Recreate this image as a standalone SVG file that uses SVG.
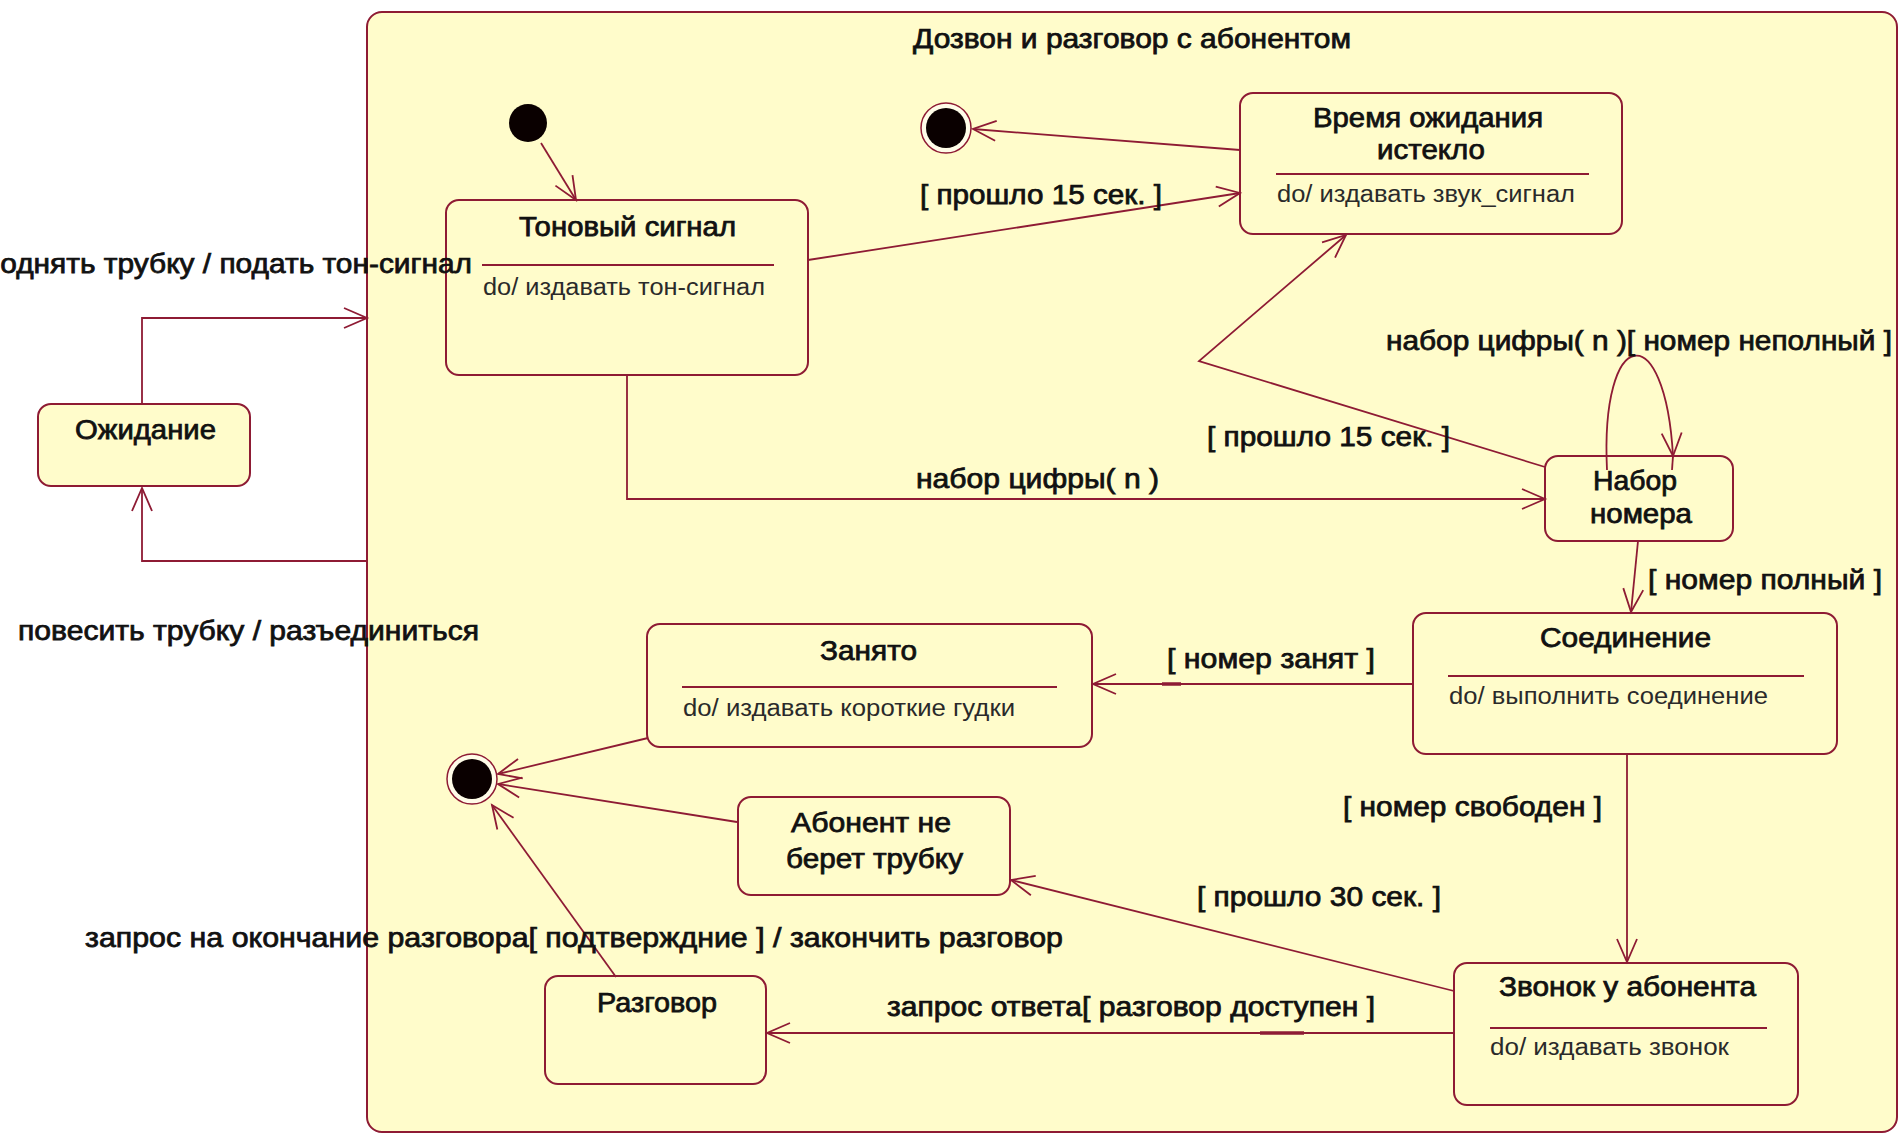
<svg xmlns="http://www.w3.org/2000/svg" width="1903" height="1135" viewBox="0 0 1903 1135">
<defs>
<style>
.st{fill:#FFFCCB;stroke:#8E1B34;stroke-width:2}
.sep{stroke:#8E1B34;stroke-width:1.8}
.cn{fill:none;stroke:#8E1B34;stroke-width:1.8}
.ar{marker-end:url(#arr)}
.nm,.lb{font-family:"Liberation Sans",Arial,sans-serif;font-size:27px;font-weight:normal;fill:#111;stroke:#111;stroke-width:0.75}
.act{font-family:"Liberation Sans",Arial,sans-serif;font-size:23px;fill:#2a2a2a}
</style>
<marker id="arr" viewBox="-26 -14 28 28" refX="0" refY="0" markerWidth="28" markerHeight="28" markerUnits="userSpaceOnUse" orient="auto" overflow="visible">
<path d="M-23,-10 L0,0 L-23,10" fill="none" stroke="#8E1B34" stroke-width="1.8"/>
</marker>
</defs>
<rect width="1903" height="1135" fill="#ffffff"/>

<g id="composite">
<rect class="st" x="367" y="12" width="1530" height="1120" rx="15" ry="15"/>
<text class="lb" x="913" y="48" textLength="438" lengthAdjust="spacingAndGlyphs">Дозвон и разговор с абонентом</text>
</g>

<g id="waiting">
<rect class="st" x="38" y="404" width="212" height="82" rx="13" ry="13"/>
<text class="nm" x="75" y="439" textLength="141" lengthAdjust="spacingAndGlyphs">Ожидание</text>
</g>

<g id="initial">
<circle cx="528" cy="123" r="19" fill="#0a0000"/>
</g>

<g id="final-top">
<circle cx="946" cy="128" r="25" fill="#FFFCE8" stroke="#8E1B34" stroke-width="1.5"/>
<circle cx="946" cy="128" r="20" fill="#0a0000"/>
</g>

<g id="final-bottom">
<circle cx="472" cy="779" r="25" fill="#FFFCE8" stroke="#8E1B34" stroke-width="1.5"/>
<circle cx="472" cy="779" r="20" fill="#0a0000"/>
</g>

<g id="dial-tone">
<rect class="st" x="446" y="200" width="362" height="175" rx="13" ry="13"/>
<text class="nm" x="519" y="236" textLength="217" lengthAdjust="spacingAndGlyphs">Тоновый сигнал</text>
<line class="sep" x1="482" y1="265" x2="774" y2="265"/>
<text class="act" x="483" y="295" textLength="282" lengthAdjust="spacingAndGlyphs">do/ издавать тон-сигнал</text>
</g>

<g id="timeout">
<rect class="st" x="1240" y="93" width="382" height="141" rx="13" ry="13"/>
<text class="nm" x="1313" y="127" textLength="230" lengthAdjust="spacingAndGlyphs">Время ожидания</text>
<text class="nm" x="1377" y="159" textLength="108" lengthAdjust="spacingAndGlyphs">истекло</text>
<line class="sep" x1="1276" y1="174" x2="1589" y2="174"/>
<text class="act" x="1277" y="202" textLength="298" lengthAdjust="spacingAndGlyphs">do/ издавать звук_сигнал</text>
</g>

<g id="dialing">
<rect class="st" x="1545" y="456" width="188" height="85" rx="13" ry="13"/>
<text class="nm" x="1593" y="490" textLength="84" lengthAdjust="spacingAndGlyphs">Набор</text>
<text class="nm" x="1590" y="523" textLength="102" lengthAdjust="spacingAndGlyphs">номера</text>
</g>

<g id="connecting">
<rect class="st" x="1413" y="613" width="424" height="141" rx="13" ry="13"/>
<text class="nm" x="1540" y="647" textLength="171" lengthAdjust="spacingAndGlyphs">Соединение</text>
<line class="sep" x1="1448" y1="676" x2="1804" y2="676"/>
<text class="act" x="1449" y="704" textLength="319" lengthAdjust="spacingAndGlyphs">do/ выполнить соединение</text>
</g>

<g id="busy">
<rect class="st" x="647" y="624" width="445" height="123" rx="13" ry="13"/>
<text class="nm" x="820" y="660" textLength="97" lengthAdjust="spacingAndGlyphs">Занято</text>
<line class="sep" x1="682" y1="687" x2="1057" y2="687"/>
<text class="act" x="683" y="716" textLength="332" lengthAdjust="spacingAndGlyphs">do/ издавать короткие гудки</text>
</g>

<g id="no-answer">
<rect class="st" x="738" y="797" width="272" height="98" rx="13" ry="13"/>
<text class="nm" x="791" y="832" textLength="160" lengthAdjust="spacingAndGlyphs">Абонент не</text>
<text class="nm" x="786" y="868" textLength="177" lengthAdjust="spacingAndGlyphs">берет трубку</text>
</g>

<g id="talk">
<rect class="st" x="545" y="976" width="221" height="108" rx="13" ry="13"/>
<text class="nm" x="597" y="1012" textLength="120" lengthAdjust="spacingAndGlyphs">Разговор</text>
</g>

<g id="ringing">
<rect class="st" x="1454" y="963" width="344" height="142" rx="13" ry="13"/>
<text class="nm" x="1499" y="996" textLength="257" lengthAdjust="spacingAndGlyphs">Звонок у абонента</text>
<line class="sep" x1="1490" y1="1028" x2="1767" y2="1028"/>
<text class="act" x="1490" y="1055" textLength="239" lengthAdjust="spacingAndGlyphs">do/ издавать звонок</text>
</g>

<g id="connectors">
<polyline class="cn ar" points="142,404 142,318 367,318"/>
<polyline class="cn ar" points="367,561 142,561 142,488"/>
<line class="cn ar" x1="541" y1="143" x2="576" y2="200"/>
<line class="cn ar" x1="808" y1="260" x2="1240" y2="193"/>
<line class="cn ar" x1="1240" y1="150" x2="973" y2="129"/>
<polyline class="cn ar" points="1545,467 1199,361 1346,235"/>
<polyline class="cn ar" points="627,375 627,499 1545,499"/>
<path class="cn ar" d="M1607,470 C1600,325 1665,315 1673,456"/>
<line class="cn" x1="1673" y1="456" x2="1672" y2="470"/>
<line class="cn ar" x1="1638" y1="541" x2="1631" y2="612"/>
<line class="cn ar" x1="1413" y1="684" x2="1093" y2="684"/>
<line x1="1162" y1="684" x2="1181" y2="684" stroke="#8E1B34" stroke-width="3.5"/>
<line class="cn ar" x1="1627" y1="754" x2="1627" y2="962"/>
<line class="cn ar" x1="1454" y1="991" x2="1011" y2="880"/>
<line class="cn ar" x1="1454" y1="1033" x2="767" y2="1033"/>
<line x1="1260" y1="1033" x2="1304" y2="1033" stroke="#8E1B34" stroke-width="3.5"/>
<line class="cn ar" x1="648" y1="738" x2="498" y2="774"/>
<line class="cn ar" x1="737" y1="822" x2="498" y2="784"/>
<line class="cn ar" x1="616" y1="977" x2="492" y2="805"/>

<text class="lb" x="-16" y="273" textLength="488" lengthAdjust="spacingAndGlyphs">поднять трубку / подать тон-сигнал</text>
<text class="lb" x="18" y="640" textLength="461" lengthAdjust="spacingAndGlyphs">повесить трубку / разъединиться</text>
<text class="lb" x="920" y="204" textLength="242" lengthAdjust="spacingAndGlyphs">[ прошло 15 сек. ]</text>
<text class="lb" x="1207" y="446" textLength="243" lengthAdjust="spacingAndGlyphs">[ прошло 15 сек. ]</text>
<text class="lb" x="916" y="488" textLength="243" lengthAdjust="spacingAndGlyphs">набор цифры( n )</text>
<text class="lb" x="1386" y="350" textLength="506" lengthAdjust="spacingAndGlyphs">набор цифры( n )[ номер неполный ]</text>
<text class="lb" x="1648" y="589" textLength="234" lengthAdjust="spacingAndGlyphs">[ номер полный ]</text>
<text class="lb" x="1167" y="668" textLength="208" lengthAdjust="spacingAndGlyphs">[ номер занят ]</text>
<text class="lb" x="1343" y="816" textLength="259" lengthAdjust="spacingAndGlyphs">[ номер свободен ]</text>
<text class="lb" x="1197" y="906" textLength="244" lengthAdjust="spacingAndGlyphs">[ прошло 30 сек. ]</text>
<text class="lb" x="887" y="1016" textLength="488" lengthAdjust="spacingAndGlyphs">запрос ответа[ разговор доступен ]</text>
<text class="lb" x="85" y="947" textLength="978" lengthAdjust="spacingAndGlyphs">запрос на окончание разговора[ подтверждние ] / закончить разговор</text>
</g>
</svg>
